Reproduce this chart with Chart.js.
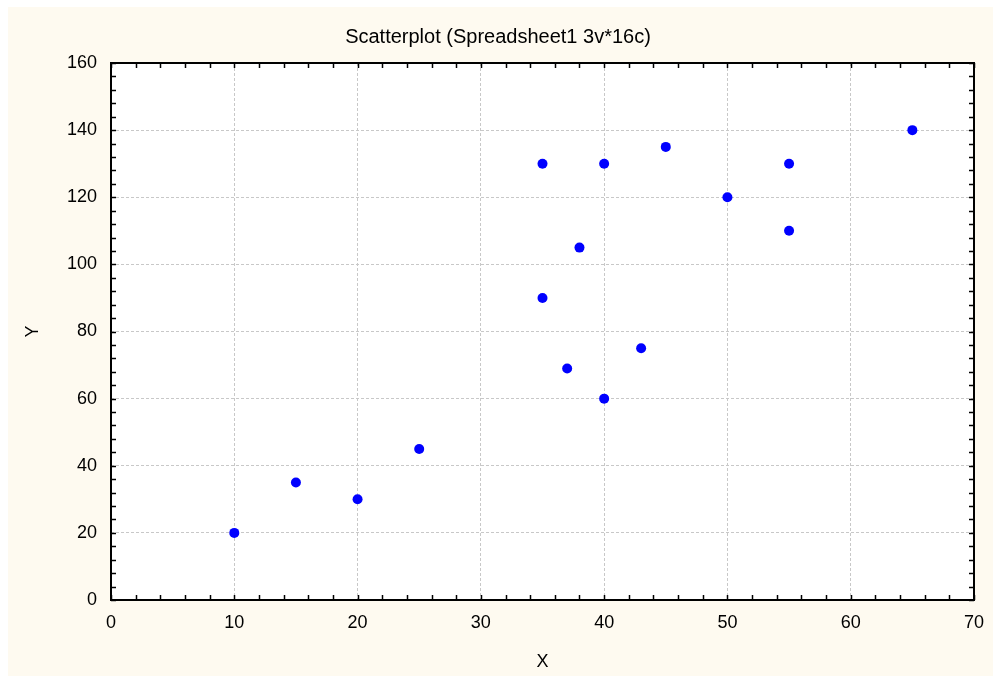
<!DOCTYPE html>
<html>
<head>
<meta charset="utf-8">
<script src="https://cdn.jsdelivr.net/npm/chart.js@4"></script>
<style>
  html, body { margin: 0; padding: 0; background: #fff; }
  canvas { display: block; }
</style>
</head>
<body>
<canvas id="scatter" width="993" height="679"></canvas>
<script>
// data
const xValues = [10, 15, 20, 25, 35, 35, 37, 38, 40, 40, 43, 45, 50, 55, 55, 65];
const yValues = [20, 35, 30, 45, 130, 90, 69, 105, 130, 60, 75, 135, 120, 130, 110, 140];
const xTicks = [0, 10, 20, 30, 40, 50, 60, 70];
const yTicks = [0, 20, 40, 60, 80, 100, 120, 140, 160];
const xMinorStep = 2;
const yMinorStep = 4;

const points = xValues.map((x, i) => ({ x: x, y: yValues[i] }));
const fontFamily = '"Liberation Sans", Arial, sans-serif';

// background: white page, cream panel, white plot area
const panelBackground = {
    id: 'panelBackground',
    beforeDraw(chart) {
        const { ctx, chartArea } = chart;
        ctx.save();
        ctx.fillStyle = '#ffffff';
        ctx.fillRect(0, 0, chart.width, chart.height);
        ctx.fillStyle = '#fefaf0';
        ctx.fillRect(8, 7, chart.width - 8, chart.height - 10);
        ctx.fillStyle = '#ffffff';
        ctx.fillRect(chartArea.left, chartArea.top, chartArea.right - chartArea.left, chartArea.bottom - chartArea.top);
        ctx.restore();
    }
};

// black frame with small inward ticks on all four sides
const frameTicks = {
    id: 'frameTicks',
    afterDraw(chart) {
        const { ctx, chartArea } = chart;
        const xs = chart.scales.x;
        const ys = chart.scales.y;
        const len = 5;
        ctx.save();
        ctx.strokeStyle = '#000';
        ctx.lineWidth = 1.5;
        ctx.beginPath();
        for (let v = xs.min; v <= xs.max; v += xMinorStep) {
            const px = Math.round(xs.getPixelForValue(v)) + 0.5;
            ctx.moveTo(px, chartArea.bottom);
            ctx.lineTo(px, chartArea.bottom - len);
            ctx.moveTo(px, chartArea.top);
            ctx.lineTo(px, chartArea.top + len);
        }
        for (let v = ys.min; v <= ys.max; v += yMinorStep) {
            const py = Math.round(ys.getPixelForValue(v)) + 0.5;
            ctx.moveTo(chartArea.left, py);
            ctx.lineTo(chartArea.left + len, py);
            ctx.moveTo(chartArea.right, py);
            ctx.lineTo(chartArea.right - len, py);
        }
        ctx.stroke();
        ctx.lineWidth = 2;
        ctx.strokeRect(chartArea.left, chartArea.top, chartArea.right - chartArea.left, chartArea.bottom - chartArea.top);
        ctx.restore();
    }
};

new Chart(document.getElementById('scatter'), {
    type: 'scatter',
    data: {
        datasets: [{
            label: 'Y',
            data: points,
            backgroundColor: '#0000ff',
            borderColor: '#0000ff',
            borderWidth: 0,
            pointRadius: 5,
            pointHoverRadius: 5
        }]
    },
    options: {
        responsive: false,
        animation: false,
        devicePixelRatio: 1,
        layout: { padding: { left: 22, right: 19, top: 0, bottom: 0 } },
        plugins: {
            legend: { display: false },
            tooltip: { enabled: false },
            title: {
                display: true,
                text: 'Scatterplot (Spreadsheet1 3v*16c)',
                color: '#000',
                font: { family: fontFamily, size: 20, weight: 'normal', lineHeight: 1.2 },
                padding: { top: 25, bottom: 14 }
            }
        },
        scales: {
            x: {
                type: 'linear',
                min: 0,
                max: 70,
                afterBuildTicks(scale) { scale.ticks = xTicks.map(v => ({ value: v })); },
                afterFit(scale) {
                    scale.height = 79;
                    scale.paddingLeft = 0;
                    scale.paddingRight = 0;
                },
                ticks: { color: '#000', padding: 12, maxRotation: 0, font: { family: fontFamily, size: 18 } },
                grid: { color: '#c8c8c8', lineWidth: 1, drawTicks: false },
                border: { display: false, dash: [3, 2] },
                title: {
                    display: true,
                    text: 'X',
                    color: '#000',
                    font: { family: fontFamily, size: 18 },
                    padding: { top: 0, bottom: 6 }
                }
            },
            y: {
                type: 'linear',
                min: 0,
                max: 160,
                afterBuildTicks(scale) { scale.ticks = yTicks.map(v => ({ value: v })); },
                afterFit(scale) { scale.width = 89; },
                ticks: { color: '#000', padding: 14, font: { family: fontFamily, size: 18 } },
                grid: { color: '#c8c8c8', lineWidth: 1, drawTicks: false },
                border: { display: false, dash: [3, 2] },
                title: {
                    display: true,
                    text: 'Y',
                    color: '#000',
                    font: { family: fontFamily, size: 18 },
                    padding: { top: 0, bottom: 0 }
                }
            }
        }
    },
    plugins: [panelBackground, frameTicks]
});
</script>
</body>
</html>
